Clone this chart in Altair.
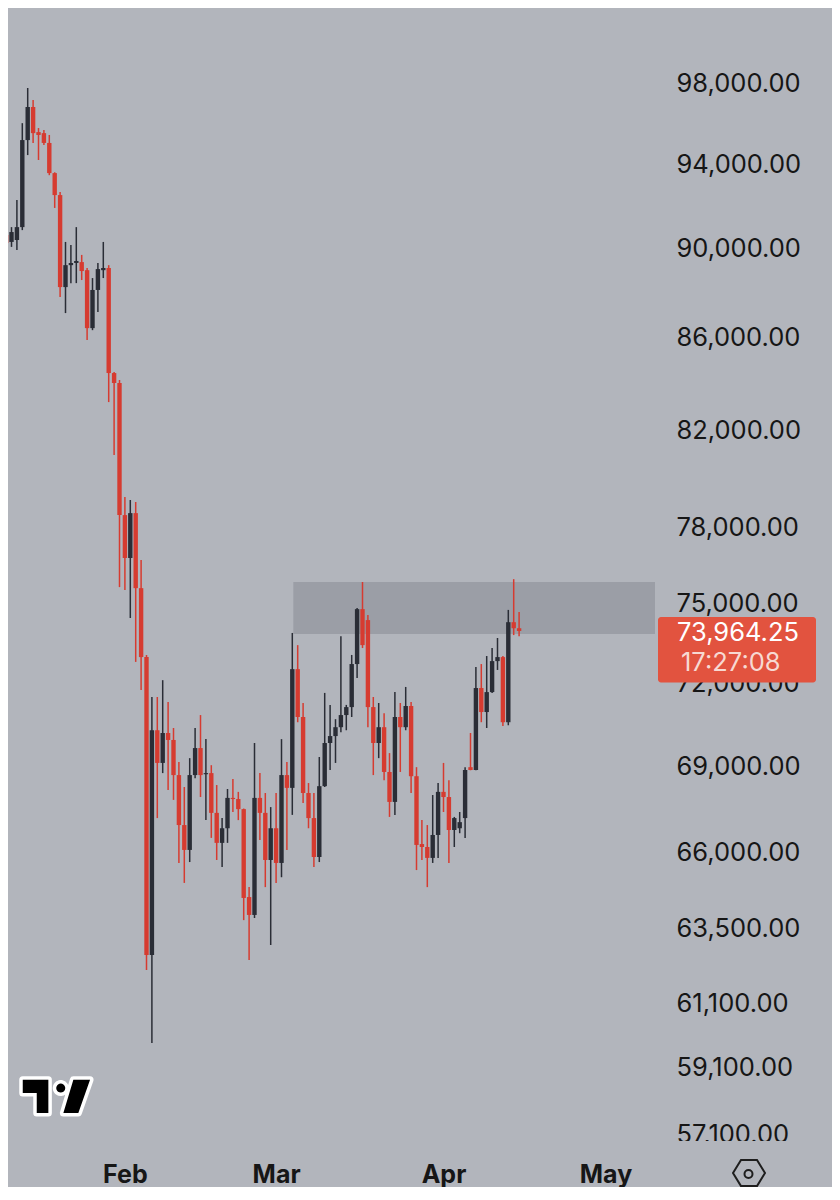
import math
import altair as alt
import pandas as pd

# ---------------- data ----------------
dates = pd.date_range("2026-01-09", periods=97, freq="D").strftime("%Y-%m-%d").tolist()

opens = [91810, 90640, 90320, 90410, 91010, 95170, 96800, 95560, 95510, 95030,
         93570, 92520, 88250, 89250, 89350, 89390, 89020, 86410, 88120, 89020,
         89120, 84440, 84010, 78500, 76790, 78580, 75610, 72980, 62630, 70290,
         69120, 70190, 69940, 68690, 66950, 66100, 68690, 69650, 68720, 68760,
         67370, 66340, 66840, 67890, 67850, 67500, 64520, 63930, 67890, 67370,
         65760, 66840, 65660, 68690, 68240, 72530, 70770, 68060, 67190, 65860,
         68300, 69830, 70080, 70400, 70840, 71130, 72720, 74800, 74380, 71130,
         69830, 70400, 68800, 67750, 70770, 70400, 71170, 68650, 66300, 66200,
         65830, 66610, 68100, 67920, 66780, 66840, 67190, 68970, 68870, 71830,
         70950, 71680, 72830, 72980, 70580, 74300, 74070]
highs = [92000, 90780, 91010, 92290, 96000, 97750, 97150, 95760, 95660, 95420,
         93610, 92670, 90320, 90180, 91010, 89720, 89120, 88660, 89350, 90320,
         89250, 84480, 84140, 79230, 79110, 79030, 76710, 73060, 71500, 71500,
         72120, 71320, 70370, 69150, 68270, 69290, 70370, 70840, 69970, 69040,
         68340, 67190, 68200, 68550, 68100, 67520, 64850, 69830, 68760, 68060,
         67570, 68060, 69970, 69150, 73890, 73430, 71280, 68410, 68060, 69330,
         71650, 71210, 70690, 73770, 71210, 73060, 74840, 75850, 74570, 71500,
         71280, 70910, 69470, 71680, 71280, 71870, 71320, 68970, 67120, 66950,
         67990, 68410, 69120, 68510, 67230, 67400, 68970, 70190, 72610, 72720,
         73020, 73320, 73700, 73020, 74770, 75960, 74690]
lows = [89490, 90090, 90090, 89950, 90870, 94440, 95030, 94200, 94930, 93470,
        91910, 87800, 87080, 88430, 88430, 88570, 85880, 86320, 87130, 88660,
        83190, 80960, 75650, 75540, 74460, 72800, 71760, 62150, 59860, 67190,
        68760, 68170, 67820, 65660, 64990, 65690, 68580, 67920, 67120, 66510,
        65760, 65520, 66340, 67400, 67120, 63760, 62470, 63830, 66440, 64850,
        62950, 64990, 65180, 66100, 67300, 70580, 67710, 66840, 65520, 65690,
        68270, 68870, 69120, 70220, 70290, 70770, 72200, 73320, 70400, 68690,
        69290, 68510, 67230, 67300, 68800, 70290, 68060, 65420, 65760, 64850,
        65660, 65830, 67400, 65660, 66200, 66670, 66510, 68860, 68860, 70580,
        70370, 71650, 72500, 70440, 70470, 73810, 73770]
closes = [89580, 90270, 90780, 91010, 95170, 96800, 95510, 95420, 95030, 93570,
          92520, 88250, 89250, 89350, 89440, 88980, 86410, 88120, 89070, 89120,
          84440, 84010, 78500, 76790, 78580, 75610, 72980, 62630, 70290, 69120,
          70190, 69940, 68690, 66950, 66100, 68690, 69650, 68690, 68760, 67370,
          66340, 66840, 67890, 67850, 67500, 64490, 63930, 67890, 67370, 65760,
          66840, 65660, 68690, 68240, 72530, 70770, 68060, 67190, 65860, 68300,
          69830, 70080, 70400, 70840, 71130, 72720, 74800, 73430, 71130, 69830,
          70400, 68800, 67750, 70770, 70400, 71170, 68650, 66270, 66200, 65830,
          66610, 68100, 67920, 66780, 67190, 67050, 68870, 68870, 71830, 70950,
          71680, 72830, 72980, 70580, 74300, 74070, 73964.25]

y_ticks = [98000, 94000, 90000, 86000, 82000, 78000, 75000, 72000, 69000,
           66000, 63500, 61100, 59100, 57100]
month_ticks = [2, 3, 4, 5]          # Feb, Mar, Apr, May (1st of month, 2026)
price_domain = [56807, 101848]
last_price = 73964.25
countdown = "17:27:08"
zone_low, zone_high = 73850, 75850
zone_start = "2026-03-04T04:30:00Z"
view_end = "2026-05-10T04:00:00Z"

# ---------------- style ----------------
BG = "#b2b5bc"
RED = "#d63b30"
DARK = "#2a2d36"
ZONE = "#9b9ea6"
LABEL_RED = "#e2533f"
TXT = "#161616"
FONT = "Inter"

PLOT_W, PLOT_H = 647, 1137
TOTAL_W, TOTAL_H = 824, 1179

df = pd.DataFrame({"date": dates, "open": opens, "high": highs,
                   "low": lows, "close": closes})
df["dir"] = ["down" if c < o else "up" for o, c in zip(opens, closes)]

zone_df = pd.DataFrame({"start": [zone_start], "end": [view_end],
                        "lo": [zone_low], "hi": [zone_high]})
last_df = pd.DataFrame({"price": [last_price], "timer": [countdown]})
one = pd.DataFrame({"k": [0]})

x_scale = alt.Scale(type="utc", domain=[
    alt.DateTime(year=2026, month=1, date=10, hours=8, minutes=26, utc=True),
    alt.DateTime(year=2026, month=5, date=10, hours=4, utc=True)])
y_scale = alt.Scale(type="log", domain=price_domain, nice=False, zero=False)

x_axis = alt.Axis(title=None, values=[alt.DateTime(year=2026, month=m, date=1, utc=True)
                                      for m in month_ticks],
                  labelExpr="utcFormat(datum.value, '%b')", grid=False, domain=False,
                  ticks=False, labelFont=FONT, labelFontSize=25, labelFontWeight="bold",
                  labelColor=TXT, labelPadding=17, labelFlush=False, labelOverlap=False)
y_axis = alt.Axis(title=None, orient="right", values=y_ticks, format=",.2f", grid=False,
                  domain=False, ticks=False, labelFont=FONT, labelFontSize=25.5,
                  labelColor=TXT, labelPadding=21, labelAlign="left",
                  labelBaseline="middle", labelOverlap=False, labelFlush=False)

color = alt.Color("dir:N", scale=alt.Scale(domain=["up", "down"], range=[DARK, RED]),
                  legend=None)

zone = alt.Chart(zone_df).mark_rect(color=ZONE).encode(
    x=alt.X("start:T", scale=x_scale, axis=x_axis), x2="end:T",
    y=alt.Y("lo:Q", scale=y_scale, axis=y_axis), y2="hi:Q")

wick = alt.Chart(df).mark_rule(strokeWidth=1.5, clip=True).encode(
    x=alt.X("date:T", scale=x_scale, axis=x_axis),
    y=alt.Y("low:Q", scale=y_scale, axis=y_axis), y2="high:Q", color=color)

body = alt.Chart(df).mark_rule(strokeWidth=4.4, clip=True).encode(
    x=alt.X("date:T", scale=x_scale, axis=x_axis),
    y=alt.Y("open:Q", scale=y_scale, axis=y_axis), y2="close:Q", color=color)

box = alt.Chart(last_df).mark_rect(color=LABEL_RED, cornerRadius=3, yOffset=-14,
                                   y2Offset=51.5).encode(
    x=alt.value(650), x2=alt.value(808),
    y=alt.Y("price:Q", scale=y_scale, axis=y_axis), y2="price:Q")

txt1 = alt.Chart(last_df).mark_text(align="left", baseline="middle", font=FONT,
                                    fontSize=25.5, color="white", dy=1.5).encode(
    x=alt.value(669), y=alt.Y("price:Q", scale=y_scale, axis=y_axis),
    text=alt.Text("price:Q", format=",.2f"))

txt2 = alt.Chart(last_df).mark_text(align="left", baseline="middle", font=FONT,
                                    fontSize=25.5, color="#f7d9d2", dy=31.5).encode(
    x=alt.value(673), y=alt.Y("price:Q", scale=y_scale, axis=y_axis),
    text="timer:N")

# background-coloured strip that cuts the lowest price label like the reference
cover = alt.Chart(one).mark_rect(color=BG).encode(
    x=alt.value(648), x2=alt.value(TOTAL_W), y=alt.value(1133), y2=alt.value(TOTAL_H))


def poly(pts):
    return "M " + " L ".join(f"{x:.3f} {y:.3f}" for x, y in pts) + " Z"


def circle(cx, cy, r, n=20):
    return poly([(cx + r * math.cos(2 * math.pi * i / n),
                  cy + r * math.sin(2 * math.pi * i / n)) for i in range(n)])


logo_path = " ".join([
    poly([(-1, -0.495), (-0.239, -0.495), (-0.239, 0.495), (-0.584, 0.495),
          (-0.584, -0.10), (-1, -0.10)]),
    circle(0.129, -0.248, 0.134),
    poly([(0.504, -0.495), (1, -0.495), (0.652, 0.495), (0.207, 0.495)]),
])
hex_path = poly([(-1, 0), (-0.5, -0.82), (0.5, -0.82), (1, 0), (0.5, 0.82), (-0.5, 0.82)])

logo_bg = alt.Chart(one).mark_point(shape=logo_path, size=4529, filled=True, fill="white",
                                    stroke="white", strokeWidth=7, strokeJoin="round",
                                    opacity=1).encode(x=alt.value(48.4), y=alt.value(1088.4))
logo = alt.Chart(one).mark_point(shape=logo_path, size=4529, filled=True, fill="black",
                                 strokeWidth=0, opacity=1).encode(
    x=alt.value(48.4), y=alt.value(1088.4))
hexa = alt.Chart(one).mark_point(shape=hex_path, size=1024, filled=False, stroke="#1e1e1e",
                                 strokeWidth=2, opacity=1).encode(
    x=alt.value(741), y=alt.value(1165))
hexdot = alt.Chart(one).mark_point(shape="circle", size=64, filled=False, stroke="#1e1e1e",
                                   strokeWidth=2, opacity=1).encode(
    x=alt.value(740.5), y=alt.value(1166))

chart = alt.layer(zone, wick, body, box, txt1, txt2, cover, logo_bg, logo, hexa, hexdot).properties(
    width=PLOT_W, height=PLOT_H, background=BG,
    autosize=alt.AutoSizeParams(type="none"),
    padding={"left": 0, "top": 0, "right": TOTAL_W - PLOT_W, "bottom": TOTAL_H - PLOT_H},
).configure_view(strokeWidth=0)

chart.save("out.html", embed_options={"renderer": "svg", "actions": False})
